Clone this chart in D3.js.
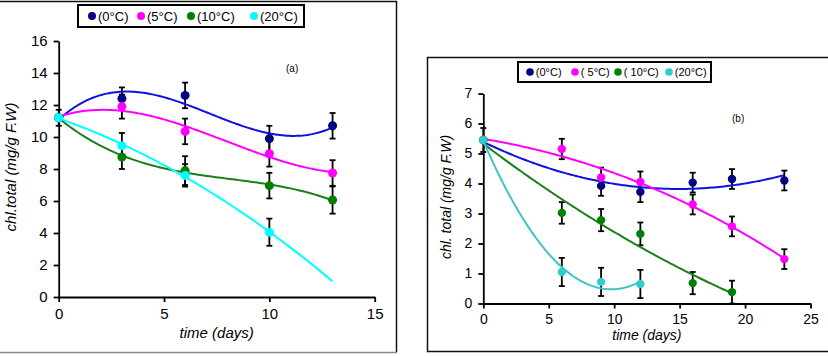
<!DOCTYPE html>
<html>
<head>
<meta charset="utf-8">
<script src="https://cdn.jsdelivr.net/npm/d3@7"></script>
<style>
  body { margin: 0; background: #fff; }
  svg { display: block; font-family: "Liberation Sans", Arial, sans-serif; }
  .axis path, .axis line { stroke: #000; stroke-width: 1.8; }
  .axis text { fill: #000; }
</style>
</head>
<body>
<div id="chart"></div>
<script>
// ---- data ----
const tempLabelsA = ['(0°C)', '(5°C)', '(10°C)', '(20°C)'];
const tempLabelsB = ['(0°C)', '( 5°C)', '( 10°C)', '(20°C)'];

const daysA = [0, 3, 6, 10, 13];
const chlA0 = [11.2, 12.4, 12.6, 9.9, 10.7];
const errA0 = [0.5, 0.7, 0.8, 0.8, 0.8];
const chlA5 = [11.2, 11.9, 10.35, 8.95, 7.75];
const errA5 = [0, 0.75, 0.8, 0.8, 0.8];
const chlA10 = [11.2, 8.75, 7.9, 6.96, 6.06];
const errA10 = [0, 0.75, 0.9, 0.8, 0.85];
const chlA20 = [11.2, 9.45, 7.6, 4.05, null];
const errA20 = [0, 0.8, 0.7, 0.85, null];

const daysB = [0, 6, 9, 12, 16, 19, 23];
const chlB0 = [5.45, null, 3.92, 3.72, 4.03, 4.15, 4.1];
const errB0 = [0.4, null, 0.33, 0.34, 0.33, 0.33, 0.33];
const chlB5 = [5.45, 5.15, 4.2, 4.05, 3.3, 2.57, 1.48];
const errB5 = [0, 0.34, 0.33, 0.35, 0.33, 0.33, 0.33];
const chlB10 = [5.45, 3.02, 2.78, 2.32, 0.68, 0.38, null];
const errB10 = [0, 0.36, 0.37, 0.38, 0.37, 0.38, null];
const chlB20 = [5.45, 1.05, 0.72, 0.65, null, null, null];
const errB20 = [0, 0.47, 0.47, 0.47, null, null, null];

const ticksA = { x: [0, 5, 10, 15], y: [0, 2, 4, 6, 8, 10, 12, 14, 16] };
const ticksB = { x: [0, 5, 10, 15, 20, 25], y: [0, 1, 2, 3, 4, 5, 6, 7] };

const width = 828;
const height = 356;

const svg = d3.select('#chart').append('svg')
  .attr('width', width)
  .attr('height', height);

svg.append('rect').attr('width', width).attr('height', height).attr('fill', '#fff');

// panel frames
svg.append('path')
  .attr('d', 'M0,1.5H396.5V352')
  .attr('fill', 'none').attr('stroke', '#111').attr('stroke-width', 1.5);
svg.append('line')
  .attr('x1', 0).attr('x2', 397).attr('y1', 352.5).attr('y2', 352.5)
  .attr('stroke', '#888').attr('stroke-width', 1.5);
svg.append('path')
  .attr('d', 'M828,57.5H427.5V351.5H828')
  .attr('fill', 'none').attr('stroke', '#111').attr('stroke-width', 1.5);

// least squares polynomial fit, returns coefficients c0..cn
function polyFit(xs, ys, order) {
  const n = order + 1;
  const m = [];
  for (let r = 0; r < n; r += 1) {
    const row = [];
    for (let c = 0; c < n; c += 1) {
      row.push(d3.sum(xs, x => Math.pow(x, r + c)));
    }
    row.push(d3.sum(xs, (x, i) => ys[i] * Math.pow(x, r)));
    m.push(row);
  }
  for (let i = 0; i < n; i += 1) {
    let p = i;
    for (let k = i + 1; k < n; k += 1) if (Math.abs(m[k][i]) > Math.abs(m[p][i])) p = k;
    [m[i], m[p]] = [m[p], m[i]];
    for (let k = i + 1; k < n; k += 1) {
      const f = m[k][i] / m[i][i];
      for (let j = i; j <= n; j += 1) m[k][j] -= f * m[i][j];
    }
  }
  const coef = new Array(n).fill(0);
  for (let i = n - 1; i >= 0; i -= 1) {
    let s = m[i][n];
    for (let j = i + 1; j < n; j += 1) s -= m[i][j] * coef[j];
    coef[i] = s / m[i][i];
  }
  return coef;
}

function drawPanel(cfg) {
  const x = d3.scaleLinear().domain(cfg.xDomain).range(cfg.xRange);
  const y = d3.scaleLinear().domain(cfg.yDomain).range(cfg.yRange);
  const g = svg.append('g');

  g.append('g')
    .attr('class', 'axis')
    .attr('transform', `translate(0,${cfg.yRange[0]})`)
    .call(d3.axisBottom(x).tickValues(cfg.ticks.x).tickFormat(d3.format('d'))
      .tickSize(5).tickSizeOuter(0).tickPadding(6))
    .selectAll('text').style('font-size', cfg.tickFont);

  g.append('g')
    .attr('class', 'axis')
    .attr('transform', `translate(${cfg.xRange[0]},0)`)
    .call(d3.axisLeft(y).tickValues(cfg.ticks.y).tickFormat(d3.format('d'))
      .tickSize(5).tickSizeOuter(0).tickPadding(6))
    .selectAll('text').style('font-size', cfg.tickFont);

  g.append('text')
    .attr('x', d3.mean(cfg.xRange))
    .attr('y', cfg.xTitleY)
    .attr('text-anchor', 'middle')
    .style('font-style', 'italic')
    .style('font-size', cfg.titleFont)
    .text('time (days)');

  g.append('text')
    .attr('transform', `translate(${cfg.yTitleX},${cfg.yTitleMid}) rotate(-90)`)
    .attr('text-anchor', 'middle')
    .style('font-style', 'italic')
    .style('font-size', cfg.titleFont)
    .text(cfg.yTitle);

  g.append('text')
    .attr('x', cfg.tag[0]).attr('y', cfg.tag[1])
    .style('font-size', '10px')
    .text(cfg.tag[2]);

  const series = cfg.series.map(s => ({
    ...s,
    pts: cfg.days.map((d, i) => ({ d, v: s.values[i], e: s.errors[i] })).filter(p => p.v != null),
  }));

  // error bars
  series.forEach((s) => {
    const eg = g.append('g').attr('stroke', '#000').attr('stroke-width', 1.8);
    s.pts.filter(p => p.e > 0).forEach((p) => {
      const cx = x(p.d);
      eg.append('line').attr('x1', cx).attr('x2', cx).attr('y1', y(p.v - p.e)).attr('y2', y(p.v + p.e));
      [p.v - p.e, p.v + p.e].forEach((v) => {
        eg.append('line').attr('x1', cx - 3).attr('x2', cx + 3).attr('y1', y(v)).attr('y2', y(v));
      });
    });
  });

  // trend lines
  series.forEach((s) => {
    const coef = polyFit(s.pts.map(p => p.d), s.pts.map(p => p.v), s.order);
    const f = t => coef.reduce((acc, c, k) => acc + c * Math.pow(t, k), 0);
    const samples = d3.range(0, s.fitEnd + 0.001, s.fitEnd / 120);
    g.append('path')
      .datum(samples)
      .attr('fill', 'none')
      .attr('stroke', s.lineColor)
      .attr('stroke-width', 2)
      .attr('d', d3.line().x(t => x(t)).y(t => y(f(t))));
  });

  // markers
  series.forEach((s) => {
    g.append('g').selectAll('circle')
      .data(s.pts)
      .enter()
      .append('circle')
        .attr('cx', p => x(p.d))
        .attr('cy', p => y(p.v))
        .attr('r', cfg.r)
        .attr('fill', s.color);
  });

  // legend
  const lg = g.append('g');
  lg.append('rect')
    .attr('x', cfg.legend.x).attr('y', cfg.legend.y)
    .attr('width', cfg.legend.w).attr('height', cfg.legend.h)
    .attr('fill', '#fff').attr('stroke', '#000').attr('stroke-width', 2);
  series.forEach((s, i) => {
    const lx = cfg.legend.items[i];
    const ly = cfg.legend.y + cfg.legend.h / 2;
    lg.append('circle').attr('cx', lx).attr('cy', ly).attr('r', cfg.legend.r).attr('fill', s.color);
    lg.append('text')
      .attr('x', lx + cfg.legend.r + 2)
      .attr('y', ly)
      .attr('dy', '0.35em')
      .style('font-size', cfg.legend.font)
      .text(s.label);
  });
}

drawPanel({
  days: daysA,
  xDomain: [0, 15], xRange: [58.7, 374.7],
  yDomain: [0, 16], yRange: [297, 41],
  ticks: ticksA,
  tickFont: '15px', titleFont: '15px',
  xTitleY: 338, yTitleX: 16, yTitleMid: 167,
  yTitle: 'chl.total (mg/g F.W)',
  tag: [286, 72, '(a)'],
  r: 4.5,
  legend: { x: 78, y: 5, w: 226, h: 22, r: 4, font: '13px', items: [92, 141, 191, 254] },
  series: [
    { label: tempLabelsA[0], values: chlA0, errors: errA0, color: '#000080', lineColor: '#1010e0', order: 3, fitEnd: 13 },
    { label: tempLabelsA[1], values: chlA5, errors: errA5, color: '#ff00ff', lineColor: '#ff00ff', order: 3, fitEnd: 13 },
    { label: tempLabelsA[2], values: chlA10, errors: errA10, color: '#008000', lineColor: '#1a801a', order: 3, fitEnd: 13 },
    { label: tempLabelsA[3], values: chlA20, errors: errA20, color: '#00ffff', lineColor: '#00ffff', order: 2, fitEnd: 13 },
  ],
});

drawPanel({
  days: daysB,
  xDomain: [0, 25], xRange: [483.3, 810.5],
  yDomain: [0, 7], yRange: [303.5, 93.5],
  ticks: ticksB,
  tickFont: '14px', titleFont: '14px',
  xTitleY: 340, yTitleX: 451, yTitleMid: 197,
  yTitle: 'chl. total (mg/g F.W)',
  tag: [732, 122, '(b)'],
  r: 4.2,
  legend: { x: 518, y: 62, w: 193, h: 20, r: 3.8, font: '11px', items: [530, 575, 618, 669] },
  series: [
    { label: tempLabelsB[0], values: chlB0, errors: errB0, color: '#000080', lineColor: '#1010e0', order: 2, fitEnd: 23 },
    { label: tempLabelsB[1], values: chlB5, errors: errB5, color: '#ff00ff', lineColor: '#ff00ff', order: 3, fitEnd: 23 },
    { label: tempLabelsB[2], values: chlB10, errors: errB10, color: '#008000', lineColor: '#1a801a', order: 2, fitEnd: 19 },
    { label: tempLabelsB[3], values: chlB20, errors: errB20, color: '#33cccc', lineColor: '#40c4c4', order: 2, fitEnd: 12 },
  ],
});
</script>
</body>
</html>
